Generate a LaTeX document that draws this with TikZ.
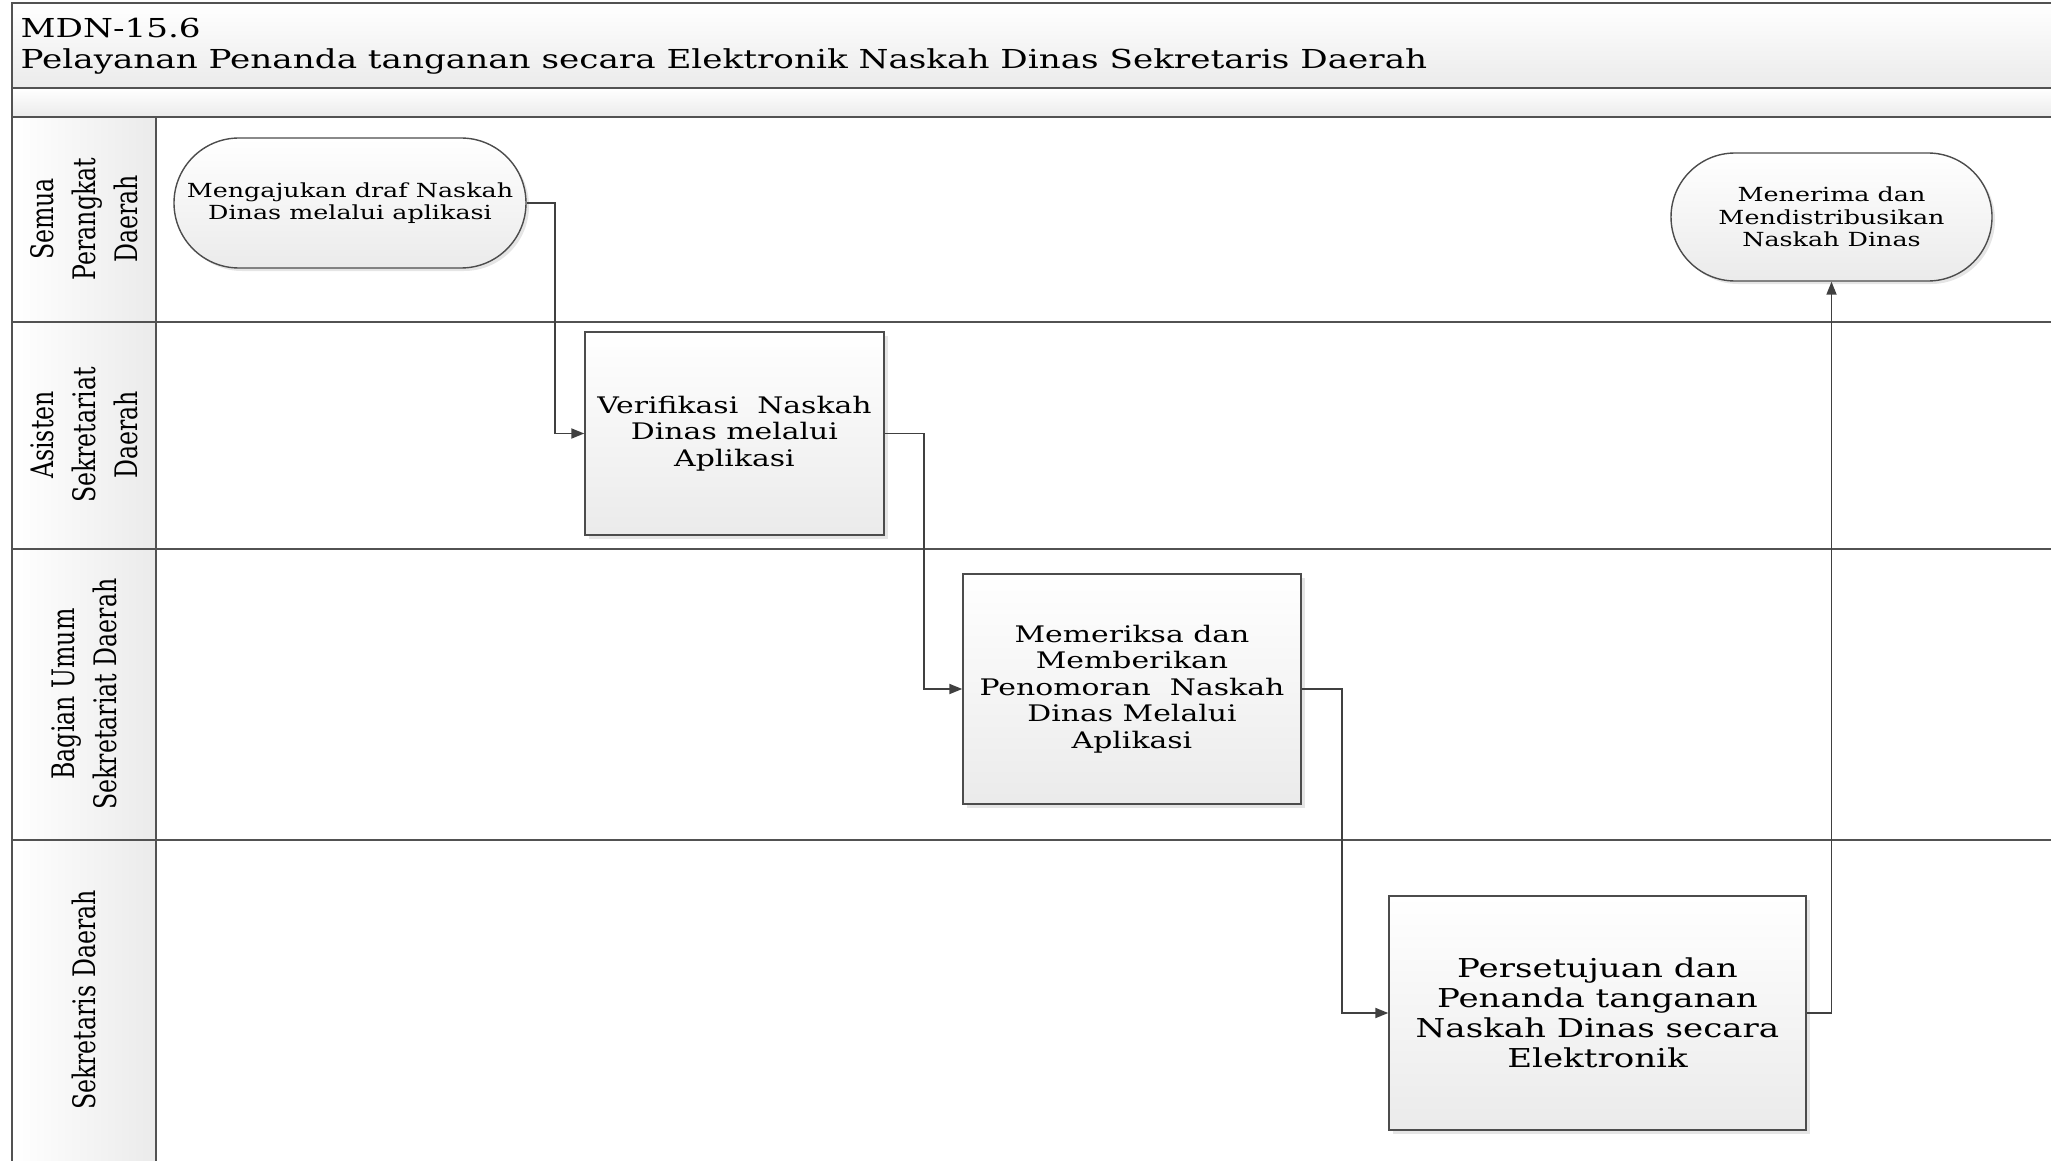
\documentclass[tikz,border=0pt]{standalone}
\usepackage{fontspec}
\setmainfont{DejaVu Serif}
\newfontfamily\flowfont[FakeStretch=1.31]{DejaVu Serif}
\newfontfamily\lanefont[FakeStretch=0.763]{DejaVu Serif}
\usetikzlibrary{shapes.misc,shadows,arrows.meta}

\begin{document}
\begin{tikzpicture}[x=1pt,y=-1pt,line width=1.4pt,
  frameline/.style={draw=black!68},
  proc/.style={rectangle,draw=black!70,top color=white,bottom color=black!8,
    general shadow={fill=black!10,shadow xshift=4pt,shadow yshift=-4pt},
    align=center,inner sep=2pt},
  term/.style={rounded rectangle,draw=black!70,top color=white,bottom color=black!8,
    general shadow={fill=black!10,shadow xshift=3pt,shadow yshift=-3pt},
    align=center,inner sep=2pt,font=\flowfont\fontsize{19.4}{22.5}\selectfont},
  flow/.style={draw=black!75,line width=1.8pt,-{Triangle[length=13pt,width=10pt]}},
  lanelabel/.style={rotate=90,align=center,inner sep=0pt,
    font=\lanefont\fontsize{31}{42}\selectfont}]
  \useasboundingbox (0,0) rectangle (2051,1161);

  % header and lane column
  \shade[top color=white,bottom color=black!8] (12,3) rectangle (2051,88);
  \shade[top color=white,bottom color=black!8] (12,88) rectangle (2051,117);
  \shade[left color=white,right color=black!8] (12,117) rectangle (156,1161);
  \draw[frameline] (12,1161) -- (12,3) -- (2051,3);
  \foreach \y in {88,117,322,549,840} {
    \draw[frameline] (12,\y) -- (2051,\y);
  }
  \draw[frameline] (156,117) -- (156,1161);

  \node[anchor=west,align=left,inner sep=0pt,
    font=\flowfont\fontsize{26.1}{31}\selectfont] (judul) at (20,46)
    {MDN-15.6\\Pelayanan Penanda tanganan secara Elektronik Naskah Dinas Sekretaris Daerah};

  % lanes
  \node[lanelabel] (laneSemua) at (84,219) {Semua\\Perangkat\\Daerah};
  \node[lanelabel] (laneAsisten) at (84,435) {Asisten\\Sekretariat\\Daerah};
  \node[lanelabel] (laneBagian) at (84,694) {Bagian Umum\\Sekretariat Daerah};
  \node[lanelabel] (laneSekda) at (84,1000) {Sekretaris Daerah};

  % steps
  \node[term,minimum width=356,minimum height=130] (ajukan) at (350,203)
    {Mengajukan draf Naskah\\Dinas melalui aplikasi};
  \node[proc,minimum width=299,minimum height=203,
    font=\flowfont\fontsize{22.8}{26.5}\selectfont] (verif) at (734.5,433.5)
    {Verifikasi\ \ Naskah\\Dinas melalui\\Aplikasi};
  \node[proc,minimum width=338,minimum height=230,
    font=\flowfont\fontsize{22.8}{26.5}\selectfont] (periksa) at (1132,689)
    {Memeriksa dan\\Memberikan\\Penomoran\ \ Naskah\\Dinas Melalui\\Aplikasi};
  \node[proc,minimum width=417,minimum height=234,
    font=\flowfont\fontsize{26}{30}\selectfont] (setuju) at (1597.5,1013)
    {Persetujuan dan\\Penanda tanganan\\Naskah Dinas secara\\Elektronik};
  \node[term,minimum width=325,minimum height=128] (terima) at (1831.5,217)
    {Menerima dan\\Mendistribusikan\\Naskah Dinas};

  % connectors
  \draw[flow] (ajukan.east) -- ++(28,0) |- (verif.west);
  \draw[flow] (verif.east) -- ++(39,0) |- (periksa.west);
  \draw[flow] (periksa.east) -- ++(40,0) |- (setuju.west);
  \draw[flow] (setuju.east) -| (terima.south);
\end{tikzpicture}
\end{document}
